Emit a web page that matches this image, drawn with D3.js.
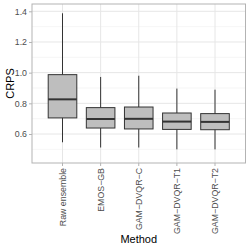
<!DOCTYPE html>
<html>
<head>
<meta charset="utf-8">
<script src="https://cdn.jsdelivr.net/npm/d3@7"></script>
<style>
  body { margin: 0; background: #fff; }
  svg { display: block; font-family: "Liberation Sans", Arial, sans-serif; }
</style>
</head>
<body>
<div id="chart"></div>
<script>
// box plot data
const methods = ["Raw ensemble", "EMOS\u2212GB", "GAM\u2212DVQR\u2212C", "GAM\u2212DVQR\u2212T1", "GAM\u2212DVQR\u2212T2"];
const whiskerLow = [0.546, 0.512, 0.512, 0.500, 0.500];
const q1 = [0.705, 0.639, 0.633, 0.630, 0.628];
const median = [0.826, 0.698, 0.699, 0.681, 0.679];
const q3 = [0.987, 0.772, 0.776, 0.737, 0.733];
const whiskerHigh = [1.387, 0.972, 0.980, 0.896, 0.889];
const yTicks = [0.6, 0.8, 1.0, 1.2, 1.4];
const yMinor = [0.5, 0.7, 0.9, 1.1, 1.3];

const w = 250, h = 250;
const padLeft = 32, padRight = 4.5, padTop = 4, padBot = 87;

const svg = d3.select("#chart").append("svg")
  .attr("width", w)
  .attr("height", h);

const x = d3.scaleBand()
  .domain(methods)
  .range([padLeft, w - padRight])
  .paddingOuter(0.3)
  .paddingInner(0);
const y = d3.scaleLinear()
  .domain([0.411, 1.4476])
  .range([h - padBot, padTop]);

// grid
svg.append("g").selectAll("line.minor")
  .data(yMinor).join("line")
  .attr("x1", padLeft).attr("x2", w - padRight)
  .attr("y1", d => y(d)).attr("y2", d => y(d))
  .attr("stroke", "#f0f0f0").attr("stroke-width", 0.6);
svg.append("g").selectAll("line.major")
  .data(yTicks).join("line")
  .attr("x1", padLeft).attr("x2", w - padRight)
  .attr("y1", d => y(d)).attr("y2", d => y(d))
  .attr("stroke", "#e6e6e6").attr("stroke-width", 1);
svg.append("g").selectAll("line.vert")
  .data(methods).join("line")
  .attr("x1", d => x(d) + x.bandwidth() / 2).attr("x2", d => x(d) + x.bandwidth() / 2)
  .attr("y1", padTop).attr("y2", h - padBot)
  .attr("stroke", "#e6e6e6").attr("stroke-width", 1);

// boxes
const bw = x.bandwidth() * 0.75;
const g = svg.append("g").selectAll("g.box")
  .data(methods).join("g")
  .attr("transform", d => `translate(${x(d) + x.bandwidth() / 2},0)`);
g.append("line")
  .attr("y1", (d, i) => y(whiskerLow[i])).attr("y2", (d, i) => y(whiskerHigh[i]))
  .attr("stroke", "#333").attr("stroke-width", 1);
g.append("rect")
  .attr("x", -bw / 2).attr("width", bw)
  .attr("y", (d, i) => y(q3[i]))
  .attr("height", (d, i) => y(q1[i]) - y(q3[i]))
  .attr("fill", "#bebebe").attr("stroke", "#333").attr("stroke-width", 1);
g.append("line")
  .attr("x1", -bw / 2).attr("x2", bw / 2)
  .attr("y1", (d, i) => y(median[i])).attr("y2", (d, i) => y(median[i]))
  .attr("stroke", "#333").attr("stroke-width", 2);

// panel border
svg.append("rect")
  .attr("x", padLeft).attr("y", padTop)
  .attr("width", w - padRight - padLeft).attr("height", h - padBot - padTop)
  .attr("fill", "none").attr("stroke", "#b3b3b3").attr("stroke-width", 1);

// axes
const yAxis = d3.axisLeft(y).tickValues(yTicks).tickFormat(d3.format(".1f")).tickSize(3).tickPadding(2);
const ya = svg.append("g")
  .attr("transform", `translate(${padLeft},0)`)
  .call(yAxis);
ya.select(".domain").remove();
ya.selectAll("line").attr("stroke", "#b3b3b3");
ya.selectAll("text").attr("fill", "#4d4d4d").style("font-size", "8.8px")
  .style("font-family", "Liberation Sans, Arial, sans-serif");

const xAxis = d3.axisBottom(x).tickSize(3).tickPadding(2);
const xa = svg.append("g")
  .attr("transform", `translate(0,${h - padBot})`)
  .call(xAxis);
xa.select(".domain").remove();
xa.selectAll("line").attr("stroke", "#b3b3b3");
xa.selectAll("text")
  .attr("fill", "#4d4d4d").style("font-size", "8.8px")
  .style("font-family", "Liberation Sans, Arial, sans-serif")
  .attr("transform", "rotate(-90)")
  .attr("text-anchor", "end")
  .attr("x", -5).attr("y", 0).attr("dy", "0.35em");

// titles
svg.append("text")
  .attr("x", (padLeft + w - padRight) / 2).attr("y", 243)
  .attr("text-anchor", "middle")
  .style("font-size", "11px").text("Method");
svg.append("text")
  .attr("transform", `translate(14,${(padTop + h - padBot) / 2}) rotate(-90)`)
  .attr("text-anchor", "middle")
  .style("font-size", "11px").text("CRPS");
</script>
</body>
</html>
